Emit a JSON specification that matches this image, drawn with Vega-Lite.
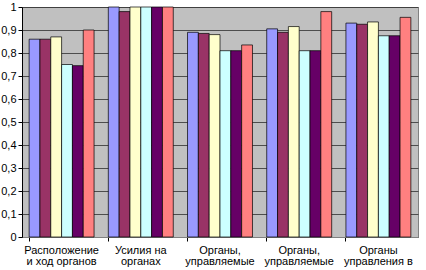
{
  "$schema": "https://vega.github.io/schema/vega-lite/v6.json",
  "width": 396,
  "height": 230,
  "autosize": {"type": "none"},
  "padding": {"left": 22, "top": 7, "right": 8, "bottom": 33},
  "background": "white",
  "config": {
    "font": "Liberation Sans",
    "view": {"fill": "#C0C0C0", "stroke": "#808080", "strokeWidth": 1}
  },
  "data": {
    "values": [
      {"cat": "Расположение|и ход органов", "s": "A", "v": 0.86},
      {"cat": "Расположение|и ход органов", "s": "B", "v": 0.86},
      {"cat": "Расположение|и ход органов", "s": "C", "v": 0.87},
      {"cat": "Расположение|и ход органов", "s": "D", "v": 0.75},
      {"cat": "Расположение|и ход органов", "s": "E", "v": 0.745},
      {"cat": "Расположение|и ход органов", "s": "F", "v": 0.9},
      {"cat": "Усилия на|органах", "s": "A", "v": 1.0},
      {"cat": "Усилия на|органах", "s": "B", "v": 0.98},
      {"cat": "Усилия на|органах", "s": "C", "v": 1.0},
      {"cat": "Усилия на|органах", "s": "D", "v": 1.0},
      {"cat": "Усилия на|органах", "s": "E", "v": 1.0},
      {"cat": "Усилия на|органах", "s": "F", "v": 1.0},
      {"cat": "Органы,|управляемые", "s": "A", "v": 0.89},
      {"cat": "Органы,|управляемые", "s": "B", "v": 0.885},
      {"cat": "Органы,|управляемые", "s": "C", "v": 0.88},
      {"cat": "Органы,|управляемые", "s": "D", "v": 0.81},
      {"cat": "Органы,|управляемые", "s": "E", "v": 0.81},
      {"cat": "Органы,|управляемые", "s": "F", "v": 0.835},
      {"cat": "Органы, |управляемые", "s": "A", "v": 0.905},
      {"cat": "Органы, |управляемые", "s": "B", "v": 0.89},
      {"cat": "Органы, |управляемые", "s": "C", "v": 0.915},
      {"cat": "Органы, |управляемые", "s": "D", "v": 0.81},
      {"cat": "Органы, |управляемые", "s": "E", "v": 0.81},
      {"cat": "Органы, |управляемые", "s": "F", "v": 0.98},
      {"cat": "Органы|управления в", "s": "A", "v": 0.93},
      {"cat": "Органы|управления в", "s": "B", "v": 0.925},
      {"cat": "Органы|управления в", "s": "C", "v": 0.935},
      {"cat": "Органы|управления в", "s": "D", "v": 0.875},
      {"cat": "Органы|управления в", "s": "E", "v": 0.875},
      {"cat": "Органы|управления в", "s": "F", "v": 0.955}
    ]
  },
  "mark": {"type": "bar", "stroke": "#000000", "strokeWidth": 0.7},
  "encoding": {
    "x": {
      "field": "cat",
      "type": "nominal",
      "sort": null,
      "scale": {"paddingInner": 0.18, "paddingOuter": 0.09},
      "axis": {
        "title": null,
        "labelAngle": 0,
        "labelExpr": "split(datum.label, '|')",
        "labelFontSize": 11,
        "labelLineHeight": 11,
        "labelColor": "#000000",
        "labelPadding": 12,
        "labelBaseline": "alphabetic",
        "domainColor": "#808080",
        "tickColor": "#000000",
        "tickSize": 4,
        "ticks": true,
        "bandPosition": 0,
        "grid": false
      }
    },
    "xOffset": {"field": "s", "type": "nominal", "sort": null},
    "y": {
      "field": "v",
      "type": "quantitative",
      "scale": {"domain": [0, 1], "nice": false},
      "axis": {
        "title": null,
        "values": [0, 0.1, 0.2, 0.3, 0.4, 0.5, 0.6, 0.7, 0.8, 0.9, 1],
        "labelExpr": "replace(format(datum.value, '.1~f'), '.', ',')",
        "labelFontSize": 11,
        "labelColor": "#000000",
        "labelPadding": 2,
        "tickColor": "#000000",
        "tickSize": 4,
        "domainColor": "#000000",
        "gridColor": "#303030",
        "gridWidth": 0.8
      }
    },
    "color": {
      "field": "s",
      "type": "nominal",
      "sort": null,
      "scale": {"range": ["#9999FF", "#993366", "#FFFFCC", "#CCFFFF", "#660066", "#FF8080"]},
      "legend": null
    }
  }
}
